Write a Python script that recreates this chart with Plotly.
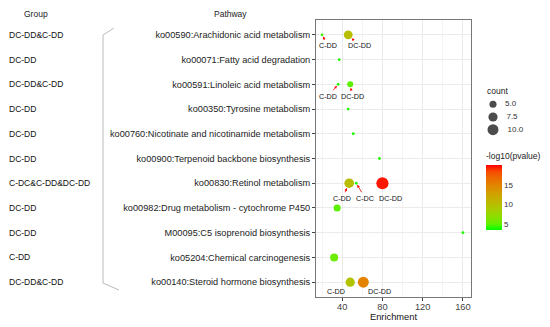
import numpy as np
import plotly.graph_objects as go

# ---------------- data ----------------
pathways = [
    "ko00590:Arachidonic acid metabolism",
    "ko00071:Fatty acid degradation",
    "ko00591:Linoleic acid metabolism",
    "ko00350:Tyrosine metabolism",
    "ko00760:Nicotinate and nicotinamide metabolism",
    "ko00900:Terpenoid backbone biosynthesis",
    "ko00830:Retinol metabolism",
    "ko00982:Drug metabolism - cytochrome P450",
    "M00095:C5 isoprenoid biosynthesis",
    "ko05204:Chemical carcinogenesis",
    "ko00140:Steroid hormone biosynthesis",
]
groups = ["DC-DD&C-DD", "DC-DD", "DC-DD&C-DD", "DC-DD", "DC-DD", "DC-DD",
          "C-DC&C-DD&DC-DD", "DC-DD", "DC-DD", "C-DD", "DC-DD&C-DD"]

pt_pathway = [0, 0, 1, 2, 2, 3, 4, 5, 6, 6, 6, 7, 8, 9, 10, 10]
pt_enrich = [20, 46, 37, 36, 48, 46, 51, 77, 47, 54, 80, 35, 160, 32, 48, 61]
pt_count = [2, 7, 2, 2, 4, 2, 2, 2, 8, 2, 12, 5, 2, 6, 7.5, 10]
pt_logp = [4.5, 10, 4, 4, 5, 4, 4, 4, 10, 4, 19.5, 5, 4, 5.5, 9.5, 15]

# arrow labels: (point index, label, text dx px, text dy px)
lab_point = [0, 1, 3, 4, 8, 9, 10, 14, 15]
lab_text = ["C-DD", "DC-DD", "C-DD", "DC-DD", "C-DD", "C-DC", "DC-DD", "C-DD", "DC-DD"]
lab_dx = [6, 11, -10, 2, -7, 9, 8, -14, 16]
lab_dy = [11, 11, 12, 12, 15, 15, 15, 9, 9]

legend_counts = [5.0, 7.5, 10.0]
cbar_ticks = [5, 10, 15]
cmin, cmax = 3.5, 20.0


def size_px(c):
    c = np.asarray(c, dtype=float)
    return np.sqrt(np.maximum(-20 + 14.0 * c, 8.0))


# Lab interpolation green -> red (like ggplot scale_colour_gradient)
def srgb_to_lab(rgb):
    c = np.array(rgb) / 255.0
    c = np.where(c > 0.04045, ((c + 0.055) / 1.055) ** 2.4, c / 12.92)
    M = np.array([[0.4124, 0.3576, 0.1805], [0.2126, 0.7152, 0.0722], [0.0193, 0.1192, 0.9505]])
    xyz = M @ c / np.array([0.95047, 1.0, 1.08883])
    f = np.where(xyz > 0.008856, np.cbrt(xyz), 7.787 * xyz + 16 / 116)
    return np.array([116 * f[1] - 16, 500 * (f[0] - f[1]), 200 * (f[1] - f[2])])


def lab_to_srgb(lab):
    L, a, b = lab
    fy = (L + 16) / 116
    fx = fy + a / 500
    fz = fy - b / 200
    f = np.array([fx, fy, fz])
    xyz = np.where(f ** 3 > 0.008856, f ** 3, (f - 16 / 116) / 7.787) * np.array([0.95047, 1.0, 1.08883])
    Mi = np.array([[3.2406, -1.5372, -0.4986], [-0.9689, 1.8758, 0.0415], [0.0557, -0.2040, 1.0570]])
    c = Mi @ xyz
    c = np.clip(c, 0, 1)
    c = np.where(c > 0.0031308, 1.055 * c ** (1 / 2.4) - 0.055, 12.92 * c)
    return tuple(int(round(v * 255)) for v in np.clip(c, 0, 1))


lo = srgb_to_lab((0, 255, 0))
hi = srgb_to_lab((255, 0, 0))
cscale = []
for t in np.linspace(0, 1, 11):
    r, g, b = lab_to_srgb(lo + (hi - lo) * t)
    cscale.append([float(t), f"rgb({r},{g},{b})"])

# ---------------- geometry (pixel layout helpers) ----------------
# page body has an 8px default margin, so the canvas is shifted by 8px
OFF = 8
W, H = 550 - OFF, 327 - OFF
ML, MR, MT, MB = 0, 0, 20 - OFF, 30
PW, PH = W - ML - MR, H - MT - MB


def px(xp):
    return (xp - OFF - ML) / PW


def py(yp):
    return 1 - (yp - OFF - MT) / PH


FONT = "Liberation Sans, Arial, sans-serif"
fig = go.Figure()

fig.add_trace(go.Scatter(
    x=pt_enrich, y=pt_pathway, mode="markers", showlegend=False,
    marker=dict(size=size_px(pt_count), color=pt_logp, colorscale=cscale,
                cmin=cmin, cmax=cmax, line=dict(width=0), opacity=1,
                colorbar=dict(title=dict(text="-log10(pvalue)", side="top",
                                         font=dict(size=8.5, family=FONT, color="#222")),
                              x=px(486), xanchor="left", xpad=0, ypad=0,
                              y=py(230), yanchor="bottom", len=80, lenmode="pixels",
                              thickness=16, outlinewidth=0, ticks="",
                              tickvals=cbar_ticks, tickfont=dict(size=8, family=FONT, color="#333"))),
))

# size legend on its own small axes
fig.add_trace(go.Scatter(
    x=[0] * len(legend_counts), y=legend_counts, mode="markers+text",
    text=[f"   {v:.1f}" for v in legend_counts], textposition="middle right",
    textfont=dict(size=8, family=FONT, color="#333"),
    marker=dict(size=size_px(legend_counts), color="black", line=dict(width=0)),
    xaxis="x2", yaxis="y2", showlegend=False, cliponaxis=False, hoverinfo="skip"))

for i, p, dx, dy in zip(lab_point, lab_text, lab_dx, lab_dy):
    fig.add_annotation(
        x=pt_enrich[i], y=pt_pathway[i], text=p, showarrow=True,
        ax=dx, ay=dy, arrowcolor="red", arrowhead=2, arrowsize=0.7, arrowwidth=0.8,
        standoff=float(size_px(pt_count[i])) / 2 + 0.5,
        font=dict(size=7.2, family=FONT, color="#111"))

for gi, g in enumerate(groups):
    fig.add_annotation(x=px(7), y=gi, xref="paper", yref="y", text=g, showarrow=False,
                       xanchor="left", yanchor="middle",
                       font=dict(size=8.5, family=FONT, color="#111"))

for txt, cx, cy, anc, yanc in [("Group", 36, 8, "center", "top"), ("Pathway", 230, 8, "center", "top"),
                               ("count", 486, 91, "left", "middle")]:
    fig.add_annotation(x=px(cx), y=py(cy), xref="paper", yref="paper", text=txt,
                       showarrow=False, xanchor=anc, yanchor=yanc, borderpad=0,
                       font=dict(size=8.5, family=FONT, color="#222"))

# bracket
fig.add_shape(type="path", xref="paper", yref="paper",
              path=f"M {px(114)} {py(28)} L {px(103)} {py(35)} L {px(103)} {py(283)} L {px(119)} {py(290)}",
              line=dict(color="#bbbbbb", width=1))

fig.update_layout(
    width=W, height=H,
    margin=dict(l=ML, r=MR, t=MT, b=MB, autoexpand=False),
    paper_bgcolor="white", plot_bgcolor="white",
    font=dict(family=FONT),
    xaxis=dict(domain=[px(316), px(471)], range=[14, 168], tickvals=[40, 80, 120, 160], showgrid=True,
               gridcolor="#ebebeb", gridwidth=1, zeroline=False,
               minor=dict(tickvals=[20, 60, 100, 140], showgrid=True, gridcolor="#f4f4f4", gridwidth=0.6),
               ticks="outside", ticklen=3, tickcolor="#444", tickfont=dict(size=9.3, color="#444"),
               ticklabelstandoff=-2,
               showline=True, linecolor="#777", linewidth=1, mirror=True,
               title=dict(text="Enrichment", font=dict(size=9.3, color="#111"), standoff=1)),
    yaxis=dict(domain=[0, 1], range=[10.6, -0.6], tickvals=list(range(len(pathways))), ticktext=pathways,
               showgrid=True, gridcolor="#ebebeb", gridwidth=1, zeroline=False,
               ticks="outside", ticklen=3, tickcolor="#444", tickfont=dict(size=9.2, color="#222"),
               showline=True, linecolor="#777", linewidth=1, mirror=True),
    xaxis2=dict(domain=[px(488), px(498)], range=[-1, 1], visible=False, anchor="y2"),
    yaxis2=dict(domain=[py(136), py(98)], range=[11.25, 3.75], visible=False, anchor="x2"),
)

fig.write_html("out.html")
